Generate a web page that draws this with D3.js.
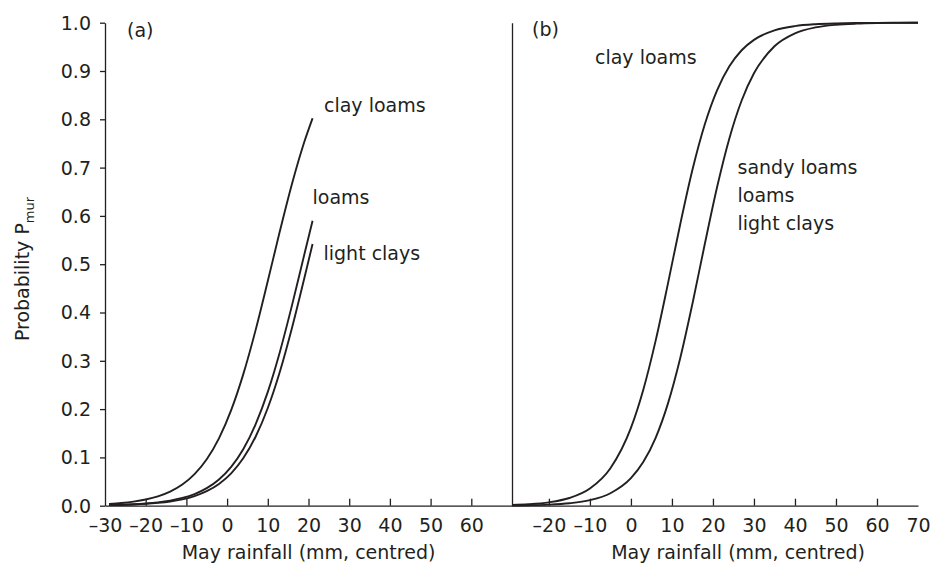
<!DOCTYPE html>
<html>
<head>
<meta charset="utf-8">
<script src="https://cdn.jsdelivr.net/npm/d3@7"></script>
<style>
  body { margin: 0; background: #fff; }
  svg text { font-family: "DejaVu Sans", sans-serif; fill: #231f20; }
</style>
</head>
<body>
<svg width="942" height="568"></svg>
<script>
// Rainfall values (mm, centred) at which the curves were read
const rainA = [-29, -26, -23, -20, -17, -14, -11, -8, -5, -2, 1, 4, 7, 10, 13, 16, 19, 21];
const clayLoamsA = [0.0037, 0.0056, 0.0085, 0.0129, 0.0195, 0.0293, 0.0439, 0.0654, 0.0962, 0.1394,
    0.1978, 0.2729, 0.3635, 0.4651, 0.5696, 0.6682, 0.7540, 0.8022];
const loamsA = [0.0013, 0.0020, 0.0030, 0.0046, 0.0070, 0.0106, 0.0161, 0.0242, 0.0364, 0.0544,
    0.0805, 0.1175, 0.1686, 0.2357, 0.3195, 0.4168, 0.5210, 0.5900];
const lightClaysA = [0.0011, 0.0016, 0.0025, 0.0038, 0.0058, 0.0087, 0.0132, 0.0200, 0.0301, 0.0451,
    0.0671, 0.0987, 0.1428, 0.2023, 0.2784, 0.3700, 0.4720, 0.5419];

const rainB = [-29, -25, -20, -15, -10, -5, 0, 3, 6, 9, 12, 15, 18, 21, 24, 27, 30, 35, 40, 45, 50, 55, 60, 65, 70];
const clayLoamsB = [0.0016, 0.0031, 0.0070, 0.0159, 0.0356, 0.0776, 0.1611, 0.2396, 0.3407, 0.4588,
    0.5818, 0.6954, 0.7892, 0.8600, 0.9097, 0.9430, 0.9644, 0.9841, 0.9930, 0.9969,
    0.9986, 0.9994, 0.9997, 0.9999, 1.0];
const otherSoilsB = [0.0005, 0.0010, 0.0022, 0.0051, 0.0115, 0.0258, 0.0570, 0.0903, 0.1400, 0.2108,
    0.3047, 0.4182, 0.5412, 0.6593, 0.7604, 0.8389, 0.8952, 0.9512, 0.9780, 0.9902,
    0.9957, 0.9981, 0.9992, 0.9996, 0.9998];

// Tick values
const yTicks = [0, 0.1, 0.2, 0.3, 0.4, 0.5, 0.6, 0.7, 0.8, 0.9, 1.0];
const xTicksA = [-30, -20, -10, 0, 10, 20, 30, 40, 50, 60];
const xTicksB = [-20, -10, 0, 10, 20, 30, 40, 50, 60, 70];

const ink = "#231f20";
const svg = d3.select("svg");

const y = d3.scaleLinear().domain([0, 1]).range([505.7, 22.7]);
const xA = d3.scaleLinear().domain([-30, 70]).range([105, 512]);
const xB = d3.scaleLinear().domain([-29, 70]).range([512, 918]);

// left y axis
const yAxis = svg.append("g")
    .attr("transform", "translate(105,0)")
    .call(d3.axisLeft(y).tickValues(yTicks).tickFormat(d3.format(".1f"))
        .tickSize(5).tickSizeOuter(0).tickPadding(9));
yAxis.selectAll("text").style("font-size", "19px").attr("dy", "0.34em");

// panel (b) y axis: plain line
svg.append("g")
    .attr("transform", "translate(512,0)")
    .call(d3.axisLeft(y).tickValues([]).tickSizeOuter(0));

// bottom axes
const axA = svg.append("g")
    .attr("transform", "translate(0,505.7)")
    .call(d3.axisBottom(xA).tickValues(xTicksA).tickFormat(d => d < 0 ? "\u2013" + (-d) : d)
        .tickSizeInner(-7).tickSizeOuter(0).tickPadding(13));
const axB = svg.append("g")
    .attr("transform", "translate(0,505.7)")
    .call(d3.axisBottom(xB).tickValues(xTicksB).tickFormat(d => d < 0 ? "\u2013" + (-d) : d)
        .tickSizeInner(-7).tickSizeOuter(0).tickPadding(13));
axB.selectAll(".tick").filter(d => d === 70).select("line").remove();
axA.selectAll(".tick").filter(d => d === -30).select("line").remove();

svg.selectAll(".domain, .tick line").attr("stroke", ink).attr("stroke-width", 1.3);
svg.selectAll(".tick text").style("font-size", "19px").attr("fill", ink).attr("font-family", null);

// curves
function drawCurve(xs, ys, sx) {
    const line = d3.line()
        .x((d, i) => sx(xs[i]))
        .y(d => y(d))
        .curve(d3.curveMonotoneX);
    svg.append("path")
        .datum(ys)
        .attr("d", line)
        .attr("fill", "none")
        .attr("stroke", ink)
        .attr("stroke-width", 1.9);
}
drawCurve(rainA, clayLoamsA, xA);
drawCurve(rainA, loamsA, xA);
drawCurve(rainA, lightClaysA, xA);
drawCurve(rainB, clayLoamsB, xB);
drawCurve(rainB, otherSoilsB, xB);

// labels
const labels = [
    {t: "(a)", x: 127, y: 36.5},
    {t: "(b)", x: 532, y: 36},
    {t: "clay loams", x: 324, y: 112},
    {t: "loams", x: 312.5, y: 204},
    {t: "light clays", x: 323.5, y: 260},
    {t: "clay loams", x: 595, y: 63.5},
    {t: "sandy loams", x: 737.5, y: 173.5},
    {t: "loams", x: 737.5, y: 201.5},
    {t: "light clays", x: 737.5, y: 229.5}
];
svg.selectAll("text.ann")
    .data(labels)
    .join("text")
    .attr("class", "ann")
    .attr("x", d => d.x)
    .attr("y", d => d.y)
    .style("font-size", "19px")
    .text(d => d.t);

// axis titles
svg.append("text")
    .attr("x", 308.5).attr("y", 559)
    .attr("text-anchor", "middle")
    .style("font-size", "19px")
    .text("May rainfall (mm, centred)");
svg.append("text")
    .attr("x", 738).attr("y", 559)
    .attr("text-anchor", "middle")
    .style("font-size", "19px")
    .text("May rainfall (mm, centred)");

const yl = svg.append("text")
    .attr("transform", "translate(29,269) rotate(-90)")
    .attr("text-anchor", "middle")
    .style("font-size", "19px");
yl.append("tspan").text("Probability P");
yl.append("tspan").attr("dy", 5).style("font-size", "13px").text("mur");
</script>
</body>
</html>
